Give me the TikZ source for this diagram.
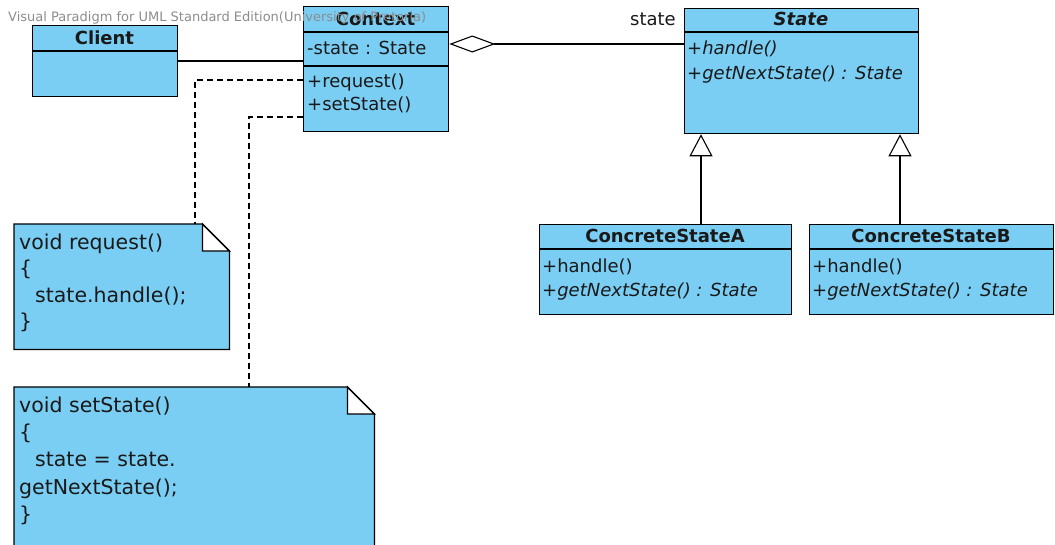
\documentclass[tikz,border=0pt]{standalone}
\usepackage{fontspec}
\setmainfont{DejaVu Sans}
\usetikzlibrary{arrows.meta}
\definecolor{umlblue}{RGB}{122,206,243}
\definecolor{ink}{RGB}{25,25,25}
\begin{document}
\begin{tikzpicture}[x=1pt,y=-1pt,
  box/.style={draw=black, fill=umlblue, line width=1.3pt, anchor=north west, inner sep=0pt},
  divider/.style={line width=1.3pt},
  lbl/.style={anchor=base west, inner sep=0pt, text=ink, font=\fontsize{18}{21}\selectfont},
  ital/.style={anchor=base west, inner sep=0pt, text=ink, font=\fontsize{18}{21}\selectfont\itshape},
  head/.style={anchor=base, inner sep=0pt, text=ink, font=\fontsize{18}{21}\selectfont\bfseries},
  ntxt/.style={anchor=base west, inner sep=0pt, text=ink, font=\fontsize{20.5}{24}\selectfont},
  conn/.style={line width=1.1pt},
  dconn/.style={line width=1.1pt, dash pattern=on 6pt off 4pt},
  gen/.style={conn, -{Triangle[open, length=22pt, width=23pt, line width=1.1pt]}},
  agg/.style={conn, -{Diamond[open, length=46pt, width=17pt, line width=1.1pt]}},
  notebox/.style={anchor=north west, inner sep=0pt},
  noteline/.style={line width=1.3pt, fill=umlblue},
  wm/.style={anchor=base west, inner sep=0pt, text=black!45, font=\fontsize{13}{15}\selectfont}
]
\useasboundingbox (0,0) rectangle (1055,544);
\clip (0,0) rectangle (1055,544);

% Client
\node[box, minimum width=145pt, minimum height=71pt] (client) at (32,25) {};
\draw[divider] ([yshift=-26pt]client.north west) -- ([yshift=-26pt]client.north east);
\node[head] (clientT) at (104.5,44) {Client};

% Context
\node[box, minimum width=145pt, minimum height=125pt] (ctx) at (303,6) {};
\draw[divider] ([yshift=-26pt]ctx.north west) -- ([yshift=-26pt]ctx.north east);
\draw[divider] ([yshift=-60pt]ctx.north west) -- ([yshift=-60pt]ctx.north east);
\node[head] (ctxT) at (375.5,25) {Context};
\node[lbl] (ctxA) at (307,54) {-state : State};
\node[lbl] (ctxM1) at (307,87) {+request()};
\node[lbl] (ctxM2) at (307,110) {+setState()};

% State
\node[box, minimum width=234pt, minimum height=125pt] (state) at (684,8) {};
\draw[divider] ([yshift=-24pt]state.north west) -- ([yshift=-24pt]state.north east);
\node[head, font=\fontsize{18}{21}\selectfont\bfseries\itshape] (stateT) at (801,25) {State};
\node[ital] (stateM1) at (687,54) {+handle()};
\node[ital] (stateM2) at (687,79) {+getNextState() : State};

% ConcreteStateA
\node[box, minimum width=252pt, minimum height=90pt] (csa) at (539,224) {};
\draw[divider] ([yshift=-25pt]csa.north west) -- ([yshift=-25pt]csa.north east);
\node[head] (csaT) at (665,242) {ConcreteStateA};
\node[lbl] (csaM1) at (542,272) {+handle()};
\node[ital] (csaM2) at (542,296) {+getNextState() : State};

% ConcreteStateB
\node[box, minimum width=244pt, minimum height=90pt] (csb) at (809,224) {};
\draw[divider] ([yshift=-25pt]csb.north west) -- ([yshift=-25pt]csb.north east);
\node[head] (csbT) at (931,242) {ConcreteStateB};
\node[lbl] (csbM1) at (812,272) {+handle()};
\node[ital] (csbM2) at (812,296) {+getNextState() : State};

% Notes
\node[notebox, minimum width=215pt, minimum height=125pt] (note1) at (14,224) {};
\draw[noteline] (note1.north west) -- ([xshift=-27pt]note1.north east) -- ([yshift=-27pt]note1.north east) -- (note1.south east) -- (note1.south west) -- cycle;
\draw[line width=1.3pt, fill=white] ([xshift=-27pt]note1.north east) -- ([xshift=-27pt,yshift=-27pt]note1.north east) -- ([yshift=-27pt]note1.north east) -- cycle;
\node[ntxt] (n1a) at (19,249) {void request()};
\node[ntxt] (n1b) at (19,275) {\{};
\node[ntxt] (n1c) at (35,302) {state.handle();};
\node[ntxt] (n1d) at (19,328) {\}};

\node[notebox, minimum width=360pt, minimum height=175pt] (note2) at (14,387) {};
\draw[noteline] (note2.north west) -- ([xshift=-27pt]note2.north east) -- ([yshift=-27pt]note2.north east) -- (note2.south east) -- (note2.south west) -- cycle;
\draw[line width=1.3pt, fill=white] ([xshift=-27pt]note2.north east) -- ([xshift=-27pt,yshift=-27pt]note2.north east) -- ([yshift=-27pt]note2.north east) -- cycle;
\node[ntxt] (n2a) at (19,412) {void setState()};
\node[ntxt] (n2b) at (19,439) {\{};
\node[ntxt] (n2c) at (35,466) {state = state.};
\node[ntxt] (n2d) at (19,494) {getNextState();};
\node[ntxt] (n2e) at (19,521) {\}};

% Connectors
\coordinate (pA) at (701,0);
\coordinate (pB) at (900,0);
\coordinate (d1) at (195,80);
\coordinate (d2) at (249,117);
\draw[conn] (client.east |- 0,61) -- (ctx.west |- 0,61);
\draw[agg] (state.west |- 0,44) -- (ctx.east |- 0,44);
\node[anchor=base east, inner sep=0pt, text=ink, font=\fontsize{18}{21}\selectfont] (roleState) at (676,25) {state};
\draw[gen] (csa.north -| pA) -- (state.south -| pA);
\draw[gen] (csb.north -| pB) -- (state.south -| pB);
\draw[dconn] (ctx.west |- d1) -- (d1) -- (note1.north -| d1);
\draw[dconn] (ctx.west |- d2) -- (d2) -- (note2.north -| d2);

% Watermark
\node[wm] (wmark) at (8,21) {Visual Paradigm for UML Standard Edition(University of Pretoria)};
\end{tikzpicture}
\end{document}
